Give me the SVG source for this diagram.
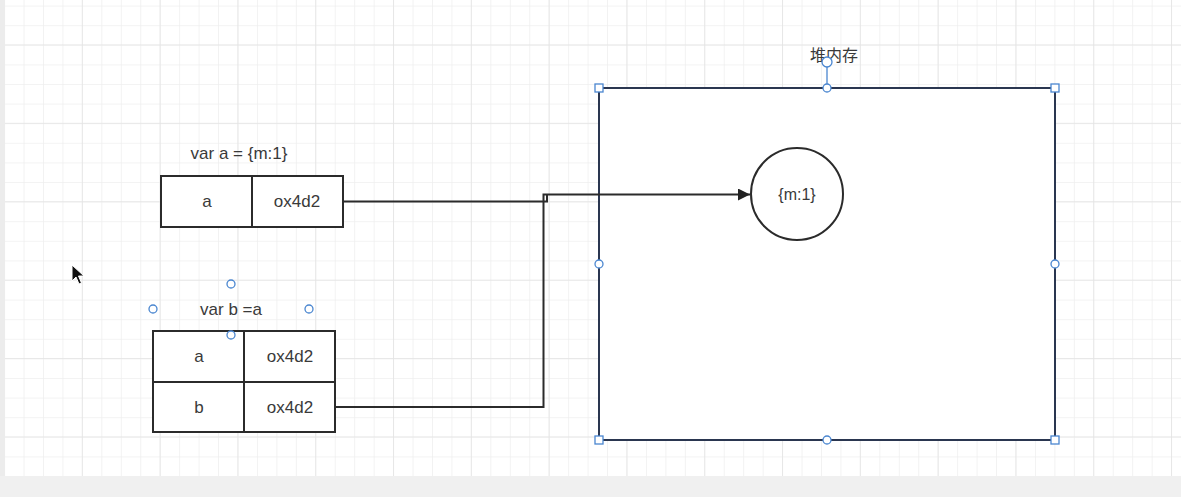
<svg xmlns="http://www.w3.org/2000/svg" width="1181" height="497" viewBox="0 0 1181 497">
  <defs>
    <pattern id="minor" x="4.1" y="5.6" width="19.45" height="19.6" patternUnits="userSpaceOnUse">
      <path d="M 0 0 V 19.6 M 0 0 H 19.45" fill="none" stroke="#efefef" stroke-width="1.5"/>
    </pattern>
    <pattern id="major" x="81.8" y="44.4" width="77.8" height="78.4" patternUnits="userSpaceOnUse">
      <path d="M 0 0 V 78.4 M 0 0 H 77.8" fill="none" stroke="#e4e4e4" stroke-width="1.5"/>
    </pattern>
    <marker id="arrow" viewBox="0 0 10 10" refX="10" refY="5" markerWidth="18" markerHeight="12" markerUnits="userSpaceOnUse" orient="auto">
      <path d="M0 0 L10 5 L0 10 Z" fill="#222"/>
    </marker>
  </defs>
  <style>
    text { font-family: "Liberation Sans", Arial, "Noto Sans CJK SC", sans-serif; font-size: 17px; fill: #3a3a3a; text-anchor: middle; dominant-baseline: central; }
    .cjk { font-family: "Noto Sans CJK SC", sans-serif; font-size: 16px; }
    .sm { font-size: 16px; }
    .cell { fill: #fff; stroke: #2b2b2b; stroke-width: 2; }
    .conn { fill: none; stroke: #2b2b2b; stroke-width: 2; }
    .hc { fill: #fff; stroke: #4a86d0; stroke-width: 1.3; }
    .hs { fill: #fff; stroke: #4a86d0; stroke-width: 1.3; }
  </style>
  <rect x="0" y="0" width="1181" height="497" fill="#fff"/>
  <rect x="0" y="0" width="1181" height="497" fill="url(#minor)"/>
  <rect x="0" y="0" width="1181" height="497" fill="url(#major)"/>
  <rect x="0" y="0" width="5" height="476" fill="#ececec"/>
  <rect x="0" y="476" width="1181" height="21" fill="#f0f0f0"/>

  <g id="heap">
    <rect x="599" y="88" width="456" height="352" fill="#fff" stroke="#2a3650" stroke-width="2"/>
    <text class="cjk" x="834" y="54">堆内存</text>
  </g>

  <g id="obj">
    <circle cx="797" cy="194" r="46" fill="#fff" stroke="#2b2b2b" stroke-width="2"/>
    <text class="sm" x="797" y="194">{m:1}</text>
  </g>

  <g id="varA">
    <text x="239" y="153">var a = {m:1}</text>
    <rect class="cell" x="161" y="176" width="91" height="51"/>
    <rect class="cell" x="252" y="176" width="91" height="51"/>
    <text x="207" y="201">a</text>
    <text x="297" y="201">ox4d2</text>
  </g>

  <g id="varB">
    <text x="231" y="309">var b =a</text>
    <rect class="cell" x="153" y="331" width="91" height="51"/>
    <rect class="cell" x="244" y="331" width="91" height="51"/>
    <rect class="cell" x="153" y="382" width="91" height="50"/>
    <rect class="cell" x="244" y="382" width="91" height="50"/>
    <text x="199" y="356">a</text>
    <text x="290" y="356">ox4d2</text>
    <text x="199" y="407">b</text>
    <text x="290" y="407">ox4d2</text>
  </g>

  <g id="connectors">
    <path class="conn" d="M 343 201.5 H 547 V 194.5"/>
    <path class="conn" d="M 335 407 H 543.5 V 194.5 H 750" marker-end="url(#arrow)"/>
  </g>

  <g id="selection-heap">
    <line x1="827" y1="62" x2="827" y2="88" stroke="#4a86d0" stroke-width="1.3"/>
    <circle class="hc" cx="827" cy="62" r="5"/>
    <rect class="hs" x="595" y="84" width="8" height="8"/>
    <rect class="hs" x="1051" y="84" width="8" height="8"/>
    <rect class="hs" x="595" y="436" width="8" height="8"/>
    <rect class="hs" x="1051" y="436" width="8" height="8"/>
    <circle class="hc" cx="827" cy="88" r="4"/>
    <circle class="hc" cx="827" cy="440" r="4"/>
    <circle class="hc" cx="599" cy="264" r="4"/>
    <circle class="hc" cx="1055" cy="264" r="4"/>
  </g>

  <g id="selection-text">
    <circle class="hc" cx="231" cy="284" r="4"/>
    <circle class="hc" cx="153" cy="309" r="4"/>
    <circle class="hc" cx="309" cy="309" r="4"/>
    <circle class="hc" cx="231" cy="335" r="4"/>
  </g>

  <g id="cursor">
    <path d="M 72 265 L 72 281 L 76 277 L 79 284 L 81.5 283 L 78.5 276 L 84 276 Z" fill="#111" stroke="#fff" stroke-width="1"/>
  </g>
</svg>
